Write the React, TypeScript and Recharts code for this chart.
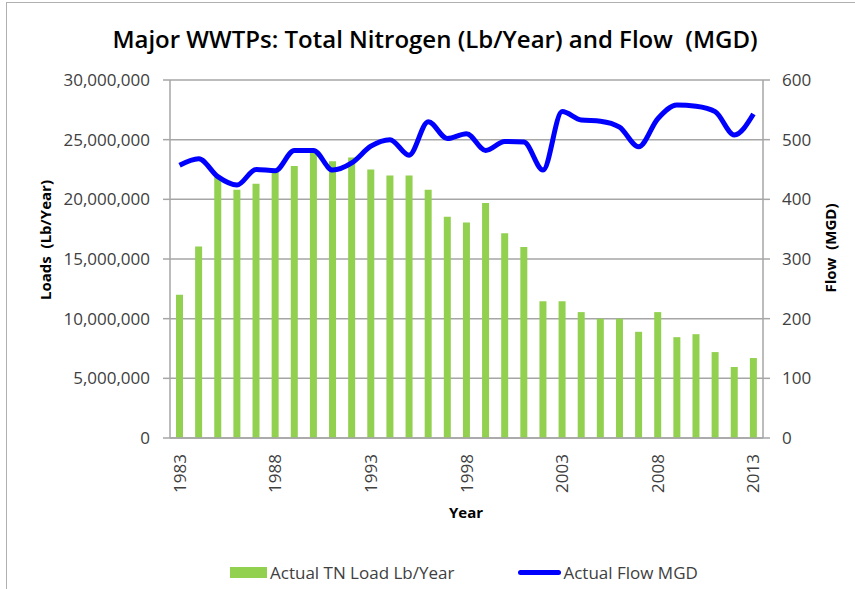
import React from 'react';
import { ComposedChart, Bar, Line, XAxis, YAxis, CartesianGrid, Legend } from 'recharts';

const years = [
  '1983', '1984', '1985', '1986', '1987', '1988', '1989', '1990', '1991', '1992',
  '1993', '1994', '1995', '1996', '1997', '1998', '1999', '2000', '2001', '2002',
  '2003', '2004', '2005', '2006', '2007', '2008', '2009', '2010', '2011', '2012', '2013'
];

// Actual TN load, Lb/Year
const tnLoad = [
  12000000, 16050000, 21900000, 20800000, 21300000, 22300000, 22800000, 23900000, 23200000, 23500000,
  22500000, 22000000, 22000000, 20800000, 18550000, 18050000, 19700000, 17150000, 16000000, 11450000,
  11450000, 10550000, 10000000, 10000000, 8900000, 10550000, 8450000, 8700000, 7200000, 5950000, 6700000
];

// Actual flow, MGD
const flowMgd = [
  457, 468, 438, 424, 450, 448, 482, 482, 449, 461,
  489, 500, 474, 530, 502, 510, 482, 497, 496, 449,
  547, 533, 531, 521, 488, 535, 558, 556, 547, 508, 543
];

const loadTicks = [0, 5000000, 10000000, 15000000, 20000000, 25000000, 30000000];
const flowTicks = [0, 100, 200, 300, 400, 500, 600];

const data = years.map((year, i) => ({ year, load: tnLoad[i], flow: flowMgd[i] }));

const FONT = '"Open Sans", sans-serif';
const GRID = '#A6A6A6';
const TEXT = '#404040';

const YearTick = (props: any) => {
  const { x, y, payload } = props;
  return (
    <text
      transform={`translate(${x + 6},${y + 8}) rotate(-90)`}
      textAnchor="end"
      fontFamily={FONT}
      fontSize={17}
      fill={TEXT}
    >
      {payload.value}
    </text>
  );
};

const LegendBox = () => (
  <div style={{ display: 'flex', alignItems: 'center', paddingLeft: 230, fontFamily: FONT, fontSize: 17, color: TEXT, height: 30 }}>
    <span style={{ display: 'inline-block', width: 37, height: 11, background: '#92D050', marginRight: 3 }} />
    <span>Actual TN Load Lb/Year</span>
    <span style={{ display: 'inline-block', width: 43, height: 5, borderRadius: 3, background: '#0000FF', marginLeft: 64, marginRight: 2 }} />
    <span>Actual Flow MGD</span>
  </div>
);

export default function App() {
  return (
    <div style={{ position: 'absolute', left: 0, top: 0, width: 855, height: 589, background: '#fff' }}>
      <div style={{ position: 'absolute', left: 6, top: 2, width: 849, height: 587, borderLeft: '1px solid #B0B0B0', borderTop: '1px solid #B0B0B0', boxSizing: 'border-box' }} />
      <div style={{ position: 'absolute', left: 0, top: 22, width: 870, textAlign: 'center', whiteSpace: 'pre', fontFamily: FONT, fontWeight: 600, fontSize: 24, color: '#000' }}>
        Major WWTPs: Total Nitrogen (Lb/Year) and Flow  (MGD)
      </div>
      <ComposedChart
        width={855}
        height={589}
        data={data}
        margin={{ top: 80, right: 32, left: 30, bottom: 31 }}
        style={{ position: 'absolute', left: 0, top: 0 }}
      >
        <CartesianGrid vertical={false} stroke={GRID} strokeWidth={1.5} yAxisId="left" />
        <XAxis
          dataKey="year"
          interval={4}
          height={90}
          tickLine={false}
          axisLine={{ stroke: GRID, strokeWidth: 1.5 }}
          tick={<YearTick />}
          label={{
            content: () => (
              <text x={466} y={518} textAnchor="middle" fontFamily={FONT} fontWeight={700} fontSize={15} fill="#000">Year</text>
            )
          }}
        />
        <YAxis
          yAxisId="left"
          width={140}
          domain={[0, 30000000]}
          ticks={loadTicks}
          tickFormatter={(v: number) => v.toLocaleString('en-US')}
          tickSize={7}
          tickMargin={13}
          tick={{ fontFamily: FONT, fontSize: 17, fill: TEXT }}
          tickLine={{ stroke: GRID, strokeWidth: 1.5 }}
          axisLine={{ stroke: GRID, strokeWidth: 1.5 }}
          label={{
            content: () => (
              <text x={45} y={240} transform="rotate(-90 45 240)" textAnchor="middle" dominantBaseline="central" fontFamily={FONT} fontWeight={700} fontSize={15} fill="#000" style={{ whiteSpace: 'pre' }}>Loads  (Lb/Year)</text>
            )
          }}
        />
        <YAxis
          yAxisId="right"
          orientation="right"
          width={60}
          domain={[0, 600]}
          ticks={flowTicks}
          tickSize={7}
          tickMargin={12}
          tick={{ fontFamily: FONT, fontSize: 17, fill: TEXT }}
          tickLine={{ stroke: GRID, strokeWidth: 1.5 }}
          axisLine={{ stroke: GRID, strokeWidth: 1.5 }}
          label={{
            content: () => (
              <text x={830} y={248} transform="rotate(-90 830 248)" textAnchor="middle" dominantBaseline="central" fontFamily={FONT} fontWeight={700} fontSize={15} fill="#000" style={{ whiteSpace: 'pre' }}>Flow  (MGD)</text>
            )
          }}
        />
        <Bar yAxisId="left" dataKey="load" name="Actual TN Load Lb/Year" fill="#92D050" barSize={7} isAnimationActive={false} />
        <Line
          yAxisId="right"
          type="monotone"
          dataKey="flow"
          name="Actual Flow MGD"
          stroke="#0000FF"
          strokeWidth={5}
          dot={false}
          activeDot={false}
          isAnimationActive={false}
        />
        <Legend verticalAlign="bottom" height={30} wrapperStyle={{ bottom: 2, left: 0, width: 855 }} content={<LegendBox />} />
      </ComposedChart>
    </div>
  );
}
